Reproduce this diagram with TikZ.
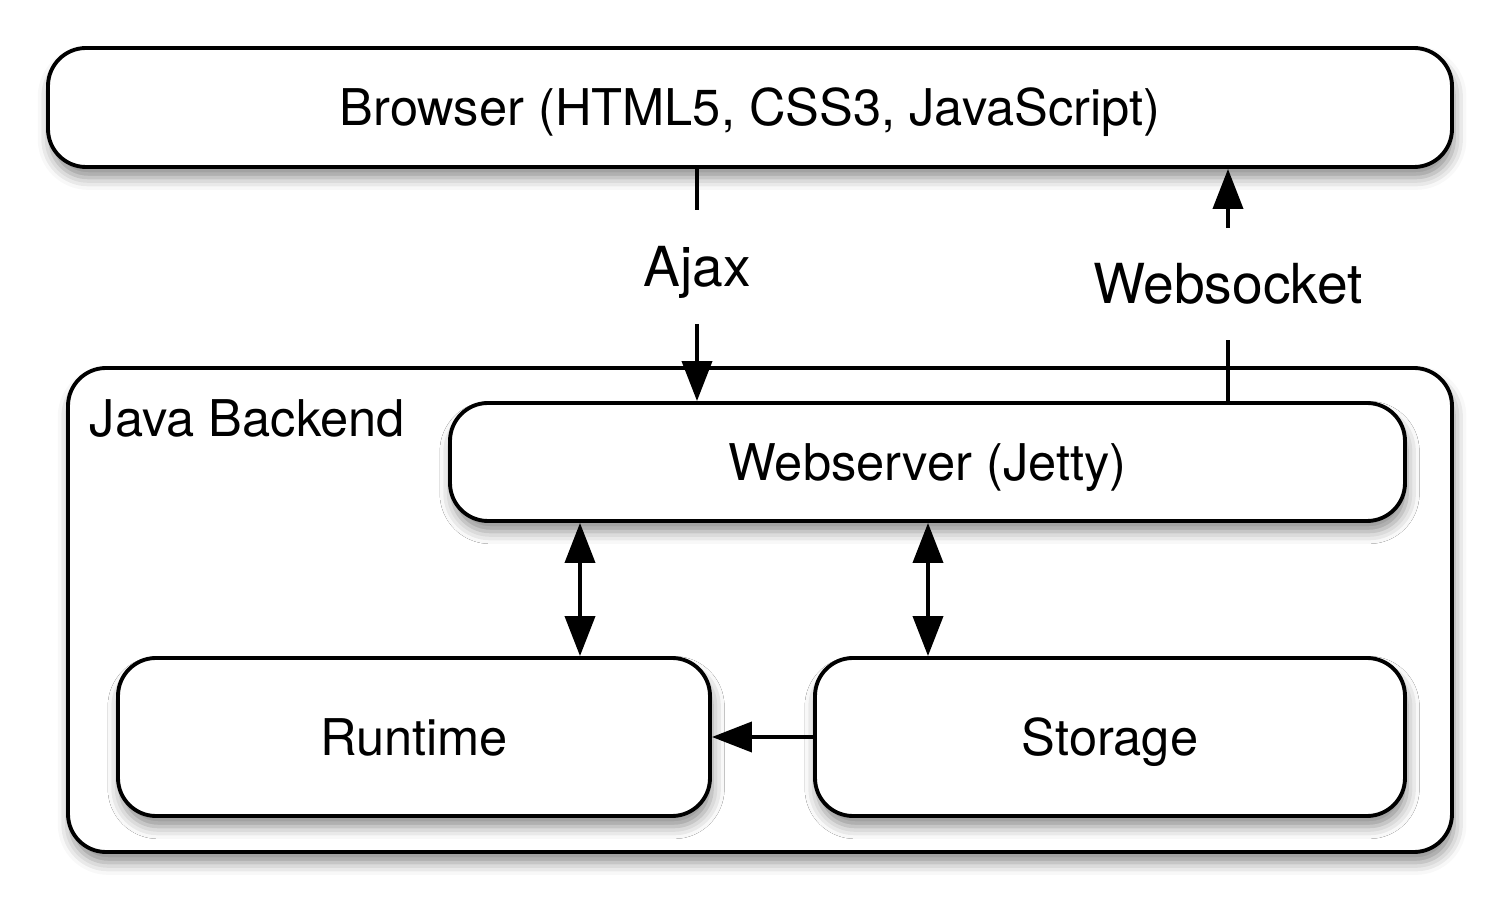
\documentclass[tikz,border=0pt]{standalone}
\usepackage{fontspec}
\setmainfont{TeX Gyre Heros}
\usetikzlibrary{calc, arrows.meta, shadows.blur}

\begin{document}
\begin{tikzpicture}[
	line width=1.1pt,
	box/.style={draw, rounded corners=0.38cm, fill=white, inner sep=0,
		blur shadow={shadow xshift=0.6pt, shadow yshift=-3pt, shadow blur radius=3.5pt, shadow opacity=45},
		text height=10.4pt, text depth=0pt, font=\fontsize{14.4}{17}\selectfont},
	title/.style={inner sep=0, text height=10.4pt, text depth=0pt, font=\fontsize{14.4}{17}\selectfont},
	lbl/.style={inner sep=0, text height=11.3pt, text depth=0pt, font=\fontsize{15.7}{18}\selectfont},
	arrow/.style={-{Triangle[length=0.4cm, width=0.3cm]}},
	darrow/.style={{Triangle[length=0.4cm, width=0.3cm]}-{Triangle[length=0.4cm, width=0.3cm]}}
	]

	\useasboundingbox (0, 0) rectangle (15, 9);

	% Browser
	\node [box, minimum width=14.04cm, minimum height=1.19cm] (browser) at (7.5, 7.925) {Browser (HTML5, CSS3, JavaScript)};

	% Java Backend
	\node [box, minimum width=13.84cm, minimum height=4.84cm] (backend) at (7.6, 2.9) {};
	\node [title, anchor=west] (backendlbl) at (0.88, 4.82) {Java Backend};

	\node [box, minimum width=9.55cm, minimum height=1.18cm] (web) at (9.275, 4.38) {Webserver (Jetty)};
	\node [box, minimum width=5.92cm, minimum height=1.58cm] (runtime) at (4.14, 1.63) {Runtime};
	\node [box, minimum width=5.90cm, minimum height=1.58cm] (storage) at (11.10, 1.63) {Storage};

	% Ajax
	\node [lbl, minimum height=1.10cm] (ajax) at (6.97, 6.33) {Ajax};
	\draw (browser.south -| ajax) -- (ajax.north);
	\draw [arrow] (ajax.south) -- (web.north -| ajax);

	% Websocket
	\node [lbl, minimum height=1.08cm] (websocket) at (12.28, 6.16) {Websocket};
	\draw (web.north -| websocket) -- (websocket.south);
	\draw [arrow] (websocket.north) -- (browser.south -| websocket);

	% Inside backend
	\coordinate (wr) at (5.80, 0);
	\coordinate (ws) at (9.28, 0);
	\draw [darrow] (web.south -| wr) -- (runtime.north -| wr);
	\draw [darrow] (web.south -| ws) -- (storage.north -| ws);
	\draw [arrow] (storage.west) -- (runtime.east);
\end{tikzpicture}
\end{document}
